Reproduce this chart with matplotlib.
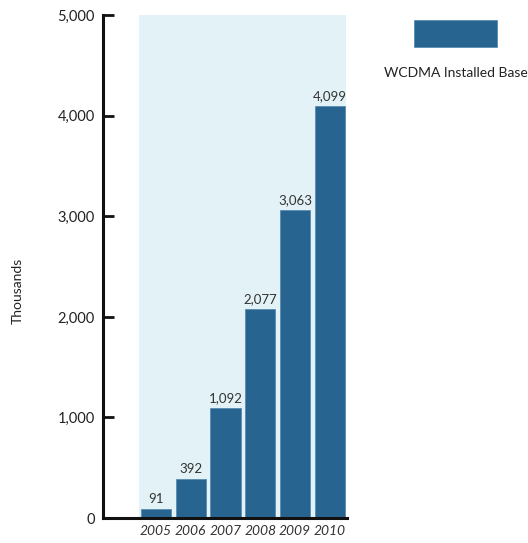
import matplotlib
matplotlib.use("Agg")
import matplotlib.pyplot as plt
from matplotlib.patches import Rectangle

years = ["2005", "2006", "2007", "2008", "2009", "2010"]
installed_base = [91, 392, 1092, 2077, 3063, 4099]
y_ticks = [0, 1000, 2000, 3000, 4000, 5000]
series_name = "WCDMA Installed Base"

bar_color = "#286490"
shade_color = "#e2f2f6"

plt.rcParams["font.family"] = ["Lato", "DejaVu Sans"]

fig = plt.figure(figsize=(5.28, 5.43), dpi=100)
ax = fig.add_axes([0.195, 0.046, 0.462, 0.926])

x = list(range(len(years)))
ax.axvspan(-0.47, 5.47, ymin=0, ymax=1, color=shade_color, zorder=0, lw=0)
bars = ax.bar(x, installed_base, width=0.87, color=bar_color,
              edgecolor="#5a8db3", linewidth=0.6, zorder=2)
for xi, v in zip(x, installed_base):
    ax.text(xi, v + 40, f"{v:,}", ha="center", va="bottom",
            fontsize=9.5, color="#333333", zorder=3)

ax.set_xlim(-1.52, 5.49)
ax.set_ylim(0, 5000)
ax.set_yticks(y_ticks)
ax.set_yticklabels([f"{t:,}" for t in y_ticks], fontsize=10.5, color="#222222")
ax.tick_params(axis="y", direction="in", length=8, width=2, pad=6, color="#111111")
ax.set_xticks(x)
ax.set_xticklabels(years, fontsize=10, style="italic", color="#333333")
ax.tick_params(axis="x", length=0, pad=5)

for side in ["top", "right"]:
    ax.spines[side].set_visible(False)
ax.spines["left"].set_linewidth(2.2)
ax.spines["bottom"].set_linewidth(2.2)
ax.spines["left"].set_color("#111111")
ax.spines["bottom"].set_color("#111111")

fig.text(0.034, 0.465, "Thousands", rotation=90, ha="center", va="center",
         fontsize=10, color="#222222")

# legend swatch and label
fig.patches.append(Rectangle((414 / 528, 1 - 47 / 543), 83 / 528, 27 / 543,
                             transform=fig.transFigure, facecolor=bar_color,
                             edgecolor="#5a8db3", linewidth=0.6))
fig.text(456 / 528, 1 - 73 / 543, series_name, ha="center", va="center",
         fontsize=10, color="#222222")

fig.savefig("out.png", dpi=100)
